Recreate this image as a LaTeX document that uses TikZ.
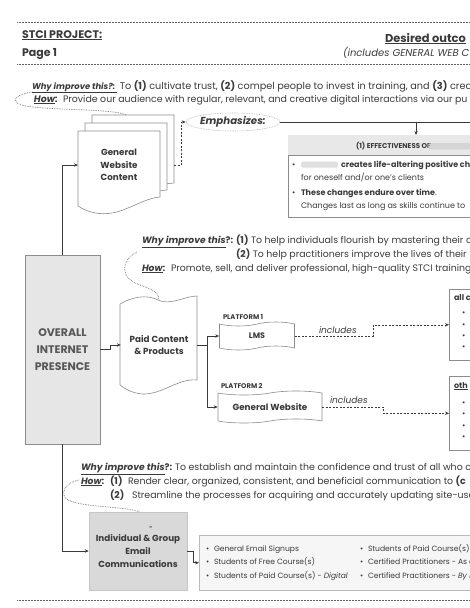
\documentclass[tikz,border=0pt]{standalone}
\usepackage{fontspec}
\setmainfont{Poppins}
\usetikzlibrary{arrows.meta,shapes.geometric,shapes.symbols}
\definecolor{ink}{HTML}{3A3A3A}
\definecolor{edge}{HTML}{8C8C8C}
\definecolor{boxgrey}{HTML}{E6E6E6}
\definecolor{mailgrey}{HTML}{D9D9D9}
\definecolor{listgrey}{HTML}{F6F6F6}
\definecolor{headgrey}{HTML}{E8E8E8}
\begin{document}
\begin{tikzpicture}[x=1pt,y=-1pt,
  txt/.style={inner sep=0pt, outer sep=0pt, text=ink, anchor=base west, font=\fontsize{9.4}{11}\selectfont},
  lab/.style={txt, font=\fontsize{9.2}{11}\selectfont},
  sm/.style={txt, font=\fontsize{8}{9}\selectfont},
  lst/.style={txt, font=\fontsize{7.6}{9}\selectfont},
  hdr/.style={txt, font=\fontsize{11}{13}\selectfont\bfseries},
  dotl/.style={draw=ink!80, line width=0.7pt, dash pattern=on 0.7pt off 0.8pt},
  curvy/.style={draw=ink!75, line width=0.7pt, dash pattern=on 0.7pt off 1pt},
  conn/.style={draw=ink, line width=0.7pt},
  arr/.style={conn, -{Stealth[length=4pt,width=3.4pt]}},
  dasharr/.style={draw=ink, line width=0.6pt, dash pattern=on 2pt off 1.5pt, -{Stealth[length=4pt,width=3.4pt]}},
  page/.style={draw=edge, fill=white, line width=0.6pt},
  blur/.style={fill=gray!45, opacity=0.55, rounded corners=1.5pt},
  ghost/.style={inner sep=0pt, outer sep=0pt},
  bigbold/.style={text=ink, align=center, inner sep=0pt, font=\fontsize{8.8}{12.6}\selectfont\bfseries},
  plat/.style={txt, font=\fontsize{6.8}{8}\selectfont\bfseries},
  incl/.style={txt, font=\fontsize{9}{10}\selectfont\itshape}
]
\useasboundingbox (0,0) rectangle (470,608);
\clip (0,0) rectangle (470,608);

% ---------- header ----------
\draw[dotl] (17,22) -- (470,22);
\node[hdr] (proj) at (22,38) {\underline{STCI PROJECT:}};
\node[hdr] (pg) at (22,56) {Page 1};
\node[txt, font=\fontsize{11.4}{12}\selectfont\bfseries] (desired) at (385,42) {\underline{Desired outco}};
\node[txt, font=\fontsize{10}{11}\selectfont\itshape] (incl0) at (343,56) {(includes GENERAL WEB C};
\draw[dotl] (17,64) -- (470,64);

% ---------- section 1 ----------
\node[txt, font=\fontsize{9.7}{11}\selectfont] (why1) at (32,89) {{\fontsize{8.4}{11}\selectfont\textbf{\textit{\underline{Why improve this?:\ }}}}\ To \textbf{(1)} cultivate trust, \textbf{(2)} compel people to invest in training, and \textbf{(3)} crea};
\node[txt] (how1) at (34,102) {\textbf{\textit{\underline{How}}:}};
\node[txt] (how1t) at (63,102) {Provide our audience with regular, relevant, and creative digital interactions via our pu};
\draw[curvy] (33,92) .. controls (18,94) and (9,100) .. (21,105) .. controls (45,111) and (110,108) .. (127,115);

% stacked pages
\draw[page] (92,115) -- (174,115) -- (174,183) .. controls (160,184) and (150,188) .. (140,192) -- (92,192) -- cycle;
\draw[page] (85,123) -- (167,123) -- (167,190) .. controls (155,191) and (145,195) .. (135,199) -- (85,199) -- cycle;
\draw[page] (78,131) -- (160,131) -- (160,197) .. controls (147,198) and (135,206) .. (120,211) .. controls (105,216) and (90,214) .. (78,206) -- cycle;
\node[ghost, minimum width=82pt, minimum height=68pt, anchor=north west] (gwc) at (78,131) {};
\node[bigbold] (gwct) at (119,165) {General\\Website\\Content};

% emphasizes
\node[ellipse, draw=gray!60, line width=0.6pt, dash pattern=on 0.8pt off 0.9pt, minimum width=94pt, minimum height=18pt, inner sep=0pt, font=\fontsize{10.2}{11}\selectfont\bfseries\itshape, text=ink] (emph) at (233,122) {Emphasizes:};
\coordinate (gwcR) at (174,165);
\draw[dasharr] (gwcR) -- ++(7,0) |- (emph.west);
\coordinate (rEdge) at (475,122);
\draw[conn] (emph.east) -- (rEdge);

% effectiveness box
\node[draw=edge, line width=0.6pt, minimum width=200pt, minimum height=82pt, anchor=north west, inner sep=0pt] (eff) at (288,135) {};
\fill[headgrey] (288.3,135.3) rectangle (470,155);
\draw[edge, line width=0.5pt] (288,155) -- (470,155);
\coordinate (tap) at (416,122);
\draw[arr] (tap) -- (tap |- eff.north);
\node[txt, font=\fontsize{7}{8}\selectfont\bfseries] (effh) at (356,148) {(1) EFFECTIVENESS OF};
\fill[blur] (428,143) rectangle (470,149.5);
\node[sm] (b1) at (292,167) {\textbullet};
\fill[blur] (301,161.5) rectangle (338,167.5);
\node[sm, font=\fontsize{8}{9}\selectfont\bfseries] (b1t) at (341,167) {creates life-altering positive ch};
\node[sm] (b1u) at (301,180) {for oneself and/or one's clients};
\node[sm] (b2) at (292,195) {\textbullet};
\node[sm] (b2t) at (301,195) {\textbf{These changes endure over time}.};
\node[sm] (b2u) at (301,208) {Changes last as long as skills continue to};

% ---------- section 2 ----------
\node[lab] (why2) at (142,243) {\textbf{\textit{\underline{Why improve this}}?:}};
\node[txt] (why2a) at (236,243) {\textbf{(1)} To help individuals flourish by mastering their o};
\node[txt] (why2b) at (236,257) {\textbf{(2)} To help practitioners improve the lives of their};
\node[lab] (how2) at (142,271) {\textbf{\textit{\underline{How}}:}};
\node[txt] (how2t) at (171,271) {Promote, sell, and deliver professional, high-quality STCI training};
\draw[curvy] (137,252) .. controls (121,260) and (119,278) .. (140,285) .. controls (155,290) and (161,295) .. (158,301);

% overall box
\node[draw=edge, fill=boxgrey, line width=0.7pt, minimum width=75pt, minimum height=189pt, inner sep=0pt, align=center, text=ink!85, font=\fontsize{11}{17}\selectfont\bfseries] (overall) at (62.5,349.5) {OVERALL\\INTERNET\\PRESENCE};
\draw[arr] (overall.north) |- (gwc.west);

% paid content
\draw[page] (120,304) .. controls (132,297) and (146,294) .. (158,300) .. controls (170,306) and (185,296) .. (197,296) -- (197,380) .. controls (178,378) and (162,395) .. (142,394) .. controls (132,393) and (125,389) .. (120,385) -- cycle;
\node[bigbold, minimum width=76pt] (paid) at (159,345) {Paid Content\\\& Products};
\draw[arr] (overall.east) -- ++(10,0) |- (paid.west);

% platforms
\node[plat] (p1) at (223,319) {PLATFORM 1};
\node[tape, draw=edge, fill=white, line width=0.6pt, tape bend height=4pt, minimum width=75pt, minimum height=28pt, inner sep=0pt, text=ink, font=\fontsize{8}{9}\selectfont\bfseries] (lms) at (257,336) {LMS};
\node[plat] (p2) at (221,388) {PLATFORM 2};
\node[tape, draw=edge, fill=white, line width=0.6pt, tape bend height=4pt, minimum width=104pt, minimum height=32pt, inner sep=0pt, text=ink, font=\fontsize{8.8}{10}\selectfont\bfseries] (gw) at (270,407) {General Website};
\draw[arr] (paid.east) -- ++(10,0) |- (lms.west);
\draw[arr] (paid.east) -- ++(10,0) |- (gw.west);

% right boxes
\node[draw=edge, fill=white, line width=0.6pt, minimum width=80pt, minimum height=71pt, anchor=north west, inner sep=0pt] (allbox) at (449,289) {};
\node[txt, font=\fontsize{8}{9}\selectfont\bfseries] (allt) at (454,300) {all c};
\foreach \yy/\nm in {315/a1,327/a2,338/a3,349/a4} \node[sm] (\nm) at (462,\yy) {\textbullet};
\node[draw=edge, fill=white, line width=0.6pt, minimum width=80pt, minimum height=74pt, anchor=north west, inner sep=0pt] (othbox) at (449,376) {};
\node[txt, font=\fontsize{8}{9}\selectfont\bfseries] (otht) at (454,388) {\underline{oth}};
\foreach \yy/\nm in {405/o1,416/o2,428/o3,439/o4} \node[sm] (\nm) at (462,\yy) {\textbullet};

\node[incl] (inc1) at (319,333) {includes};
\draw[dasharr] (lms.east) -- ++(78,0) |- (allbox.west);
\node[incl] (inc2) at (330,403) {includes};
\draw[dasharr] (gw.east) -- ++(61,0) |- (othbox.west);

% ---------- section 3 ----------
\node[lab] (why3) at (81,470) {\textbf{\textit{\underline{Why improve this}}?:}};
\node[txt] (why3t) at (175,470) {To establish and maintain the confidence and trust of all who c};
\node[lab] (how3) at (81,484) {\textbf{\textit{\underline{How}}:}};
\node[txt] (how3n) at (110,484) {\textbf{(1)}};
\node[txt] (how3t) at (128,484) {Render clear, organized, consistent, and beneficial communication to \textbf{(c}};
\node[txt] (how3bn) at (110,498) {\textbf{(2)}};
\node[txt] (how3b) at (132,498) {Streamline the processes for acquiring and accurately updating site-use};
\draw[curvy] (79,480) .. controls (65,482) and (59,495) .. (68,500) .. controls (85,508) and (125,506) .. (140,512);

% email
\node[draw=gray!45, fill=mailgrey, line width=0.5pt, minimum width=98pt, minimum height=78pt, inner sep=0pt, align=center, text=ink, font=\fontsize{8.8}{12.6}\selectfont\bfseries] (email) at (138,551) {Individual \& Group\\Email\\Communications};
\node[txt, font=\fontsize{6}{7}\selectfont\bfseries] (dash) at (149,529) {-};
\draw[arr] (overall.south) |- (email.west);

\node[draw=gray!55, fill=listgrey, line width=0.5pt, minimum width=290pt, minimum height=55pt, anchor=north west, inner sep=0pt] (list) at (199,535) {};
\draw[arr] (email.east) -- ++(6,0) |- (list.west);
\node[lst] (l1b) at (206,551) {\textbullet};
\node[lst] (l1) at (214,551) {General Email Signups};
\node[lst] (l2b) at (206,564) {\textbullet};
\node[lst] (l2) at (214,564) {Students of Free Course(s)};
\node[lst] (l3b) at (206,578) {\textbullet};
\node[lst] (l3) at (214,578) {Students of Paid Course(s) - \textit{Digital}};
\node[lst] (r1b) at (360,551) {\textbullet};
\node[lst] (r1) at (368,551) {Students of Paid Course(s) -};
\node[lst] (r2b) at (360,564) {\textbullet};
\node[lst] (r2) at (368,564) {Certified Practitioners - As c};
\node[lst] (r3b) at (360,578) {\textbullet};
\node[lst] (r3) at (368,578) {Certified Practitioners - \textit{By le}};

\draw[dotl] (17,600) -- (470,600);
\end{tikzpicture}
\end{document}
